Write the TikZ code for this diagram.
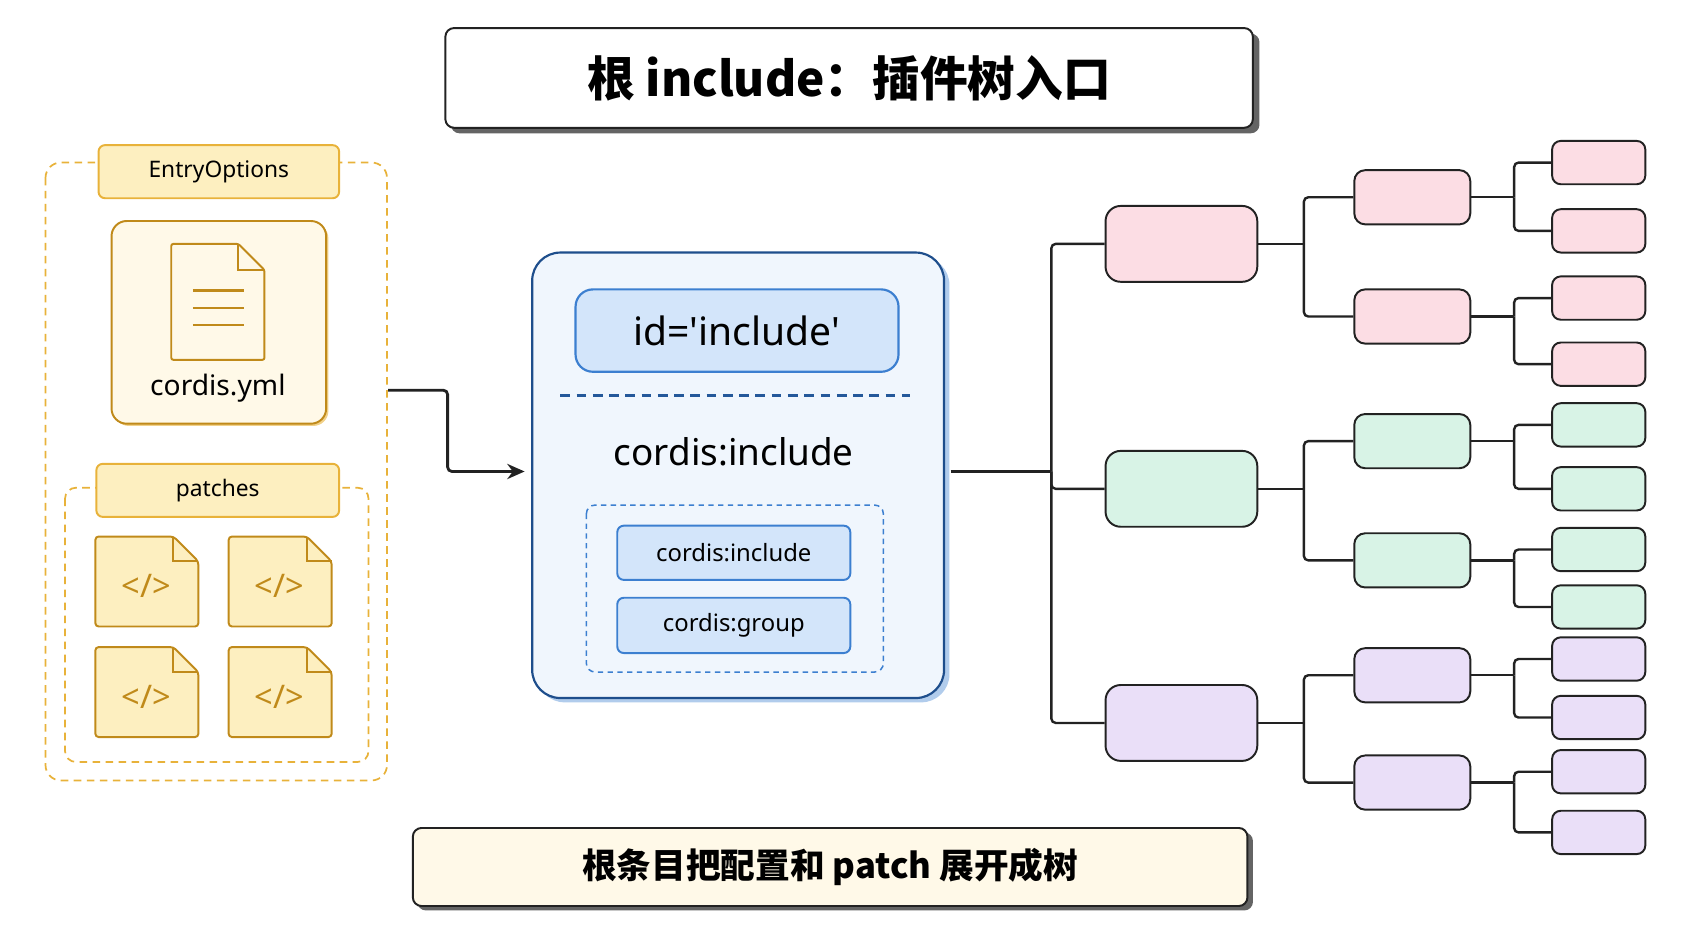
\documentclass[tikz,border=0pt]{standalone}
\usepackage{fontspec}
\setmainfont{Noto Sans}
\newfontfamily\cjk{Noto Sans CJK SC}
\usetikzlibrary{arrows.meta}
\definecolor{org}{HTML}{E8B23A}
\definecolor{orgd}{HTML}{C08A1A}
\definecolor{cream}{HTML}{FFF9E8}
\definecolor{tab}{HTML}{FDEFC0}
\definecolor{bd}{HTML}{1E4E8C}
\definecolor{bl}{HTML}{F0F6FD}
\definecolor{blf}{HTML}{D3E5FA}
\definecolor{blb}{HTML}{3C7FD0}
\definecolor{pk}{HTML}{FCDDE4}
\definecolor{gr}{HTML}{D8F3E6}
\definecolor{pu}{HTML}{EADFF8}
\definecolor{ink}{HTML}{222222}
\tikzset{
 box/.style={draw=ink,line width=1.8pt,rounded corners=8pt},
 conn/.style={draw=ink,line width=2.2pt,rounded corners=4pt},
 l1/.style={box,minimum width=140pt,minimum height=70pt,rounded corners=14pt},
 l2/.style={box,minimum width=107pt,minimum height=50pt,rounded corners=10pt},
 l3/.style={box,minimum width=86pt,minimum height=40pt,rounded corners=8pt},
 tabs/.style={draw=org,fill=tab,line width=1.8pt,rounded corners=6pt,font=\fontsize{21}{24}\selectfont},
 code/.style={draw=orgd,fill=tab,line width=1.8pt},
}
\begin{document}
\begin{tikzpicture}[x=1pt,y=-1pt]
\useasboundingbox (0,0) rectangle (1562,857);
% title
\fill[ink!70] (416,31) [rounded corners=8pt] rectangle (1162,123);
\node[box,fill=white,minimum width=745pt,minimum height=92pt,anchor=north west,font=\cjk\bfseries\fontsize{44}{50}\selectfont] (title) at (410,25) {根 include：插件树入口};
% left group
\draw[org,dashed,dash pattern=on 7pt off 5pt,line width=1.6pt,rounded corners=14pt] (42,150) rectangle (357,720);
\node[tabs,minimum width=222pt,minimum height=49pt,anchor=north west] (eo) at (90,133) {EntryOptions};
\fill[org!60] (105,206) [rounded corners=14pt] rectangle (303,393);
\node[draw=orgd,fill=cream,line width=1.8pt,rounded corners=14pt,minimum width=198pt,minimum height=187pt,anchor=north west] (yml) at (102,203) {};
\draw[orgd,fill=cream,line width=1.8pt,rounded corners=2pt] (158,225) -- (220,225) -- (244,249) -- (244,332) -- (158,332) -- cycle;
\draw[orgd,line width=1.8pt] (220,225) -- (220,249) -- (244,249);
\foreach \y in {268,284,300} \draw[orgd,line width=2pt] (178,\y) -- (225,\y);
\node[font=\fontsize{26}{30}\selectfont] (ymlt) at (201,358) {cordis.yml};
\draw[org,dashed,dash pattern=on 7pt off 5pt,line width=1.6pt,rounded corners=10pt] (60,450) rectangle (340,703);
\node[tabs,minimum width=224pt,minimum height=49pt,anchor=north west] (pt) at (88,427) {patches};
\foreach \x/\y [count=\i] in {88/495,211/495,88/597,211/597}{
 \draw[code,rounded corners=3pt] (\x,\y) -- (\x+72,\y) -- (\x+95,\y+23) -- (\x+95,\y+83) -- (\x,\y+83) -- cycle;
 \draw[orgd,line width=1.8pt] (\x+72,\y) -- (\x+72,\y+23) -- (\x+95,\y+23);
 \node[text=orgd,font=\bfseries\fontsize{30}{32}\selectfont] (c\i) at (\x+47,\y+46) {</>};
}
% arrow
\coordinate (as) at (358,360);
\coordinate (ae) at (484,435);
\draw[conn,line width=2.6pt,-{Stealth[length=16pt,width=14pt]}] (as) -- (413,360) -- (413,435) -- (ae);
% central
\fill[blb!40] (495,237) [rounded corners=26pt] rectangle (876,648);
\node[draw=bd,fill=bl,line width=2pt,rounded corners=26pt,minimum width=380pt,minimum height=411pt,anchor=north west] (main) at (490,232) {};
\node[draw=blb,fill=blf,line width=2pt,rounded corners=16pt,minimum width=298pt,minimum height=76pt,font=\fontsize{36}{40}\selectfont] (id) at (680,305) {id=\textquotesingle include\textquotesingle};
\draw[bd!80!blb,dashed,dash pattern=on 9pt off 6pt,line width=2.2pt] (517,365) -- (840,365);
\node[font=\fontsize{34}{40}\selectfont] (ci) at (677,417) {cordis:include};
\draw[blb,dashed,dash pattern=on 5pt off 4pt,line width=1.4pt,rounded corners=8pt] (541,466) rectangle (815,620);
\node[draw=blb,fill=blf,line width=1.8pt,rounded corners=6pt,minimum width=215pt,minimum height=50pt,font=\fontsize{22}{26}\selectfont] (s1) at (677,510) {cordis:include};
\node[draw=blb,fill=blf,line width=1.8pt,rounded corners=6pt,minimum width=215pt,minimum height=51pt,font=\fontsize{22}{26}\selectfont] (s2) at (677,577) {cordis:group};
% tree
\coordinate (tr) at (970,435);
\draw[conn] (877,435) -- (tr);
\foreach \c/\ya/\yb/\yc/\yd/\ye/\yf/\yg [count=\k] in
 {pk/225/182/292/150/213/275/336,gr/451/407/517/392/451/507/560,pu/667/623/722/608/662/712/768}{
 \node[l1,fill=\c] (a\k) at (1090,\ya) {};
 \node[l2,fill=\c] (b\k1) at (1303,\yb) {};
 \node[l2,fill=\c] (b\k2) at (1303,\yc) {};
 \node[l3,fill=\c] (d\k1) at (1475,\yd) {};
 \node[l3,fill=\c] (d\k2) at (1475,\ye) {};
 \node[l3,fill=\c] (d\k3) at (1475,\yf) {};
 \node[l3,fill=\c] (d\k4) at (1475,\yg) {};
 \draw[conn] (tr) -- (970,\ya) -- (a\k.west);
 \draw[conn] (a\k.east) -- (1203,\ya);
 \draw[conn] (1203,\ya) -- (1203,\yb) -- (b\k1.west);
 \draw[conn] (1203,\ya) -- (1203,\yc) -- (b\k2.west);
 \draw[conn] (b\k1.east) -- (1397,\yb);
 \draw[conn] (1397,\yb) -- (1397,\yd) -- (d\k1.west);
 \draw[conn] (1397,\yb) -- (1397,\ye) -- (d\k2.west);
 \draw[conn] (b\k2.east) -- (1397,\yc);
 \draw[conn] (1397,\yc) -- (1397,\yf) -- (d\k3.west);
 \draw[conn] (1397,\yc) -- (1397,\yg) -- (d\k4.west);
}
% bottom
\fill[ink!70] (385,768) [rounded corners=8pt] rectangle (1156,840);
\node[box,fill=cream,minimum width=770pt,minimum height=72pt,anchor=north west,font=\cjk\bfseries\fontsize{32}{36}\selectfont] (foot) at (380,763) {根条目把配置和 patch 展开成树};
\end{tikzpicture}
\end{document}
